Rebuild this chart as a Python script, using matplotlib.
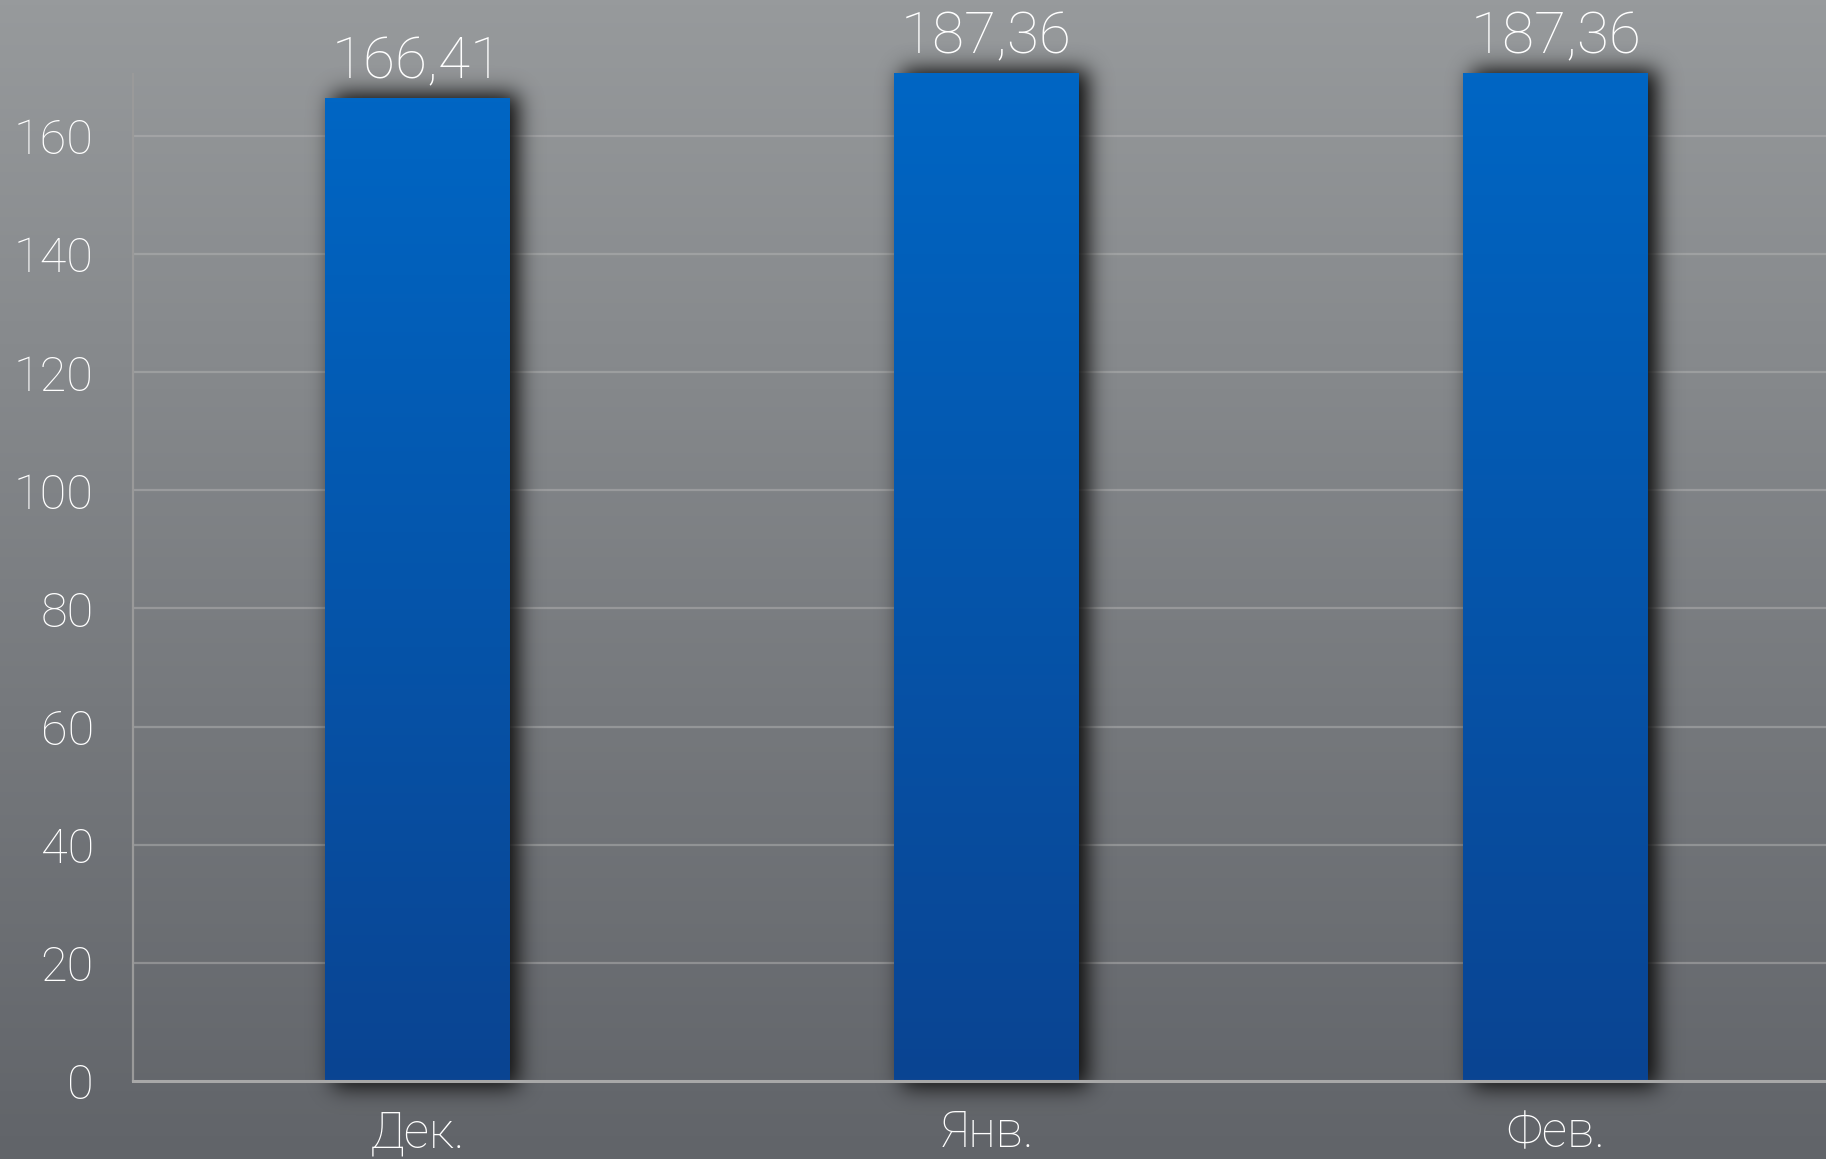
import numpy as np
import matplotlib
matplotlib.use("Agg")
import matplotlib.pyplot as plt

plt.rcParams['font.family'] = ['Roboto', 'DejaVu Sans']

categories = ["Дек.", "Янв.", "Фев."]
values = [166.41, 187.36, 187.36]
value_labels = ["166,41", "187,36", "187,36"]
yticks = [0, 20, 40, 60, 80, 100, 120, 140, 160]

W, H, DPI = 1826, 1159, 100
fig = plt.figure(figsize=(W / DPI, H / DPI), dpi=DPI)

# background gradient
bg = fig.add_axes([0, 0, 1, 1], zorder=0)
grad = np.linspace(0, 1, 256)[:, None]
top_c = np.array([151, 154, 156]) / 255
bot_c = np.array([97, 100, 105]) / 255
img = top_c[None, None, :] * (1 - grad[:, :, None]) + bot_c[None, None, :] * grad[:, :, None]
bg.imshow(img, aspect='auto', extent=[0, 1, 0, 1], origin='upper')
bg.set_axis_off()

ymax = 170.6
xl = (-0.5, 2.475)
pos = [0.0727, 0.0675, 1 - 0.0727, 0.869]
ax = fig.add_axes(pos, zorder=1)
ax.set_facecolor('none')
ax.set_xlim(*xl)
ax.set_ylim(0, ymax)

x = np.arange(len(categories))
bw = 0.325

# grid
for t in yticks[1:]:
    ax.axhline(t, color='#b4b4b4', lw=1.6, alpha=0.5, zorder=1)

# bars with gradient
bars = ax.bar(x, values, width=bw, color='#0057b0', zorder=3)

# soft drop shadow computed in pixel space from the bar geometry
mask = np.zeros((H, W))
for b, v in zip(bars, values):
    h = min(v, ymax)
    (dx0, dy0) = ax.transData.transform((b.get_x(), 0))
    (dx1, dy1) = ax.transData.transform((b.get_x() + bw, h))
    off = 8
    c0, c1 = int(round(dx0 + off)), int(round(dx1 + off))
    r0, r1 = int(round(H - dy1 - 4)), int(round(H - dy0 + 6))
    mask[max(r0, 0):r1, c0:c1] = 1.0

def blur(a, sigma):
    rad = int(3 * sigma)
    k = np.exp(-0.5 * (np.arange(-rad, rad + 1) / sigma) ** 2)
    k /= k.sum()
    p = np.pad(a, ((0, 0), (rad, rad)))
    out = np.zeros_like(a)
    for i, w in enumerate(k):
        out += w * p[:, i:i + a.shape[1]]
    p = np.pad(out, ((rad, rad), (0, 0)))
    out2 = np.zeros_like(a)
    for i, w in enumerate(k):
        out2 += w * p[i:i + a.shape[0], :]
    return out2

sh = blur(mask, 11.0)
shadow = np.zeros((H, W, 4))
shadow[..., 0:3] = 0.08
shadow[..., 3] = np.clip(sh * 1.1, 0, 0.9)
ax.imshow(shadow, extent=[0, 1, 0, 1], transform=fig.transFigure, origin='upper',
          aspect='auto', zorder=2, clip_on=False, interpolation='nearest')

bgrad = np.linspace(0, 1, 256)[:, None]
btop = np.array([0, 102, 196]) / 255
bbot = np.array([10, 68, 146]) / 255
for b, v in zip(bars, values):
    h = min(v, ymax)
    x0 = b.get_x()
    bimg = btop[None, None, :] * (1 - bgrad[:, :, None]) + bbot[None, None, :] * bgrad[:, :, None]
    im = ax.imshow(bimg, aspect='auto', extent=[x0, x0 + bw, 0, h], origin='upper', zorder=4)
    im.set_clip_path(b)
ax.set_xlim(*xl)
ax.set_ylim(0, ymax)

# value labels
for xi, v, lab in zip(x, values, value_labels):
    h = min(v, ymax)
    ax.annotate(lab, (xi, h), xytext=(0, 6), textcoords='offset points',
                ha='center', va='bottom', color='white', fontsize=42,
                fontweight='light', zorder=6, annotation_clip=False)

ax.set_xticks(x)
ax.set_xticklabels(categories)
ax.set_yticks(yticks)
ax.tick_params(axis='both', length=0, colors='white')
ax.tick_params(axis='y', pad=28, labelsize=35)
ax.tick_params(axis='x', pad=21, labelsize=36)
for lbl in ax.get_xticklabels() + ax.get_yticklabels():
    lbl.set_fontweight('light')
for s in ['top', 'right']:
    ax.spines[s].set_visible(False)
ax.spines['left'].set_color('#9a9a9a')
ax.spines['left'].set_linewidth(1.6)
ax.spines['left'].set_zorder(5)
ax.spines['bottom'].set_color('#a8a8a8')
ax.spines['bottom'].set_linewidth(2.2)
ax.spines['bottom'].set_zorder(5)

fig.savefig("out.png", dpi=DPI)
